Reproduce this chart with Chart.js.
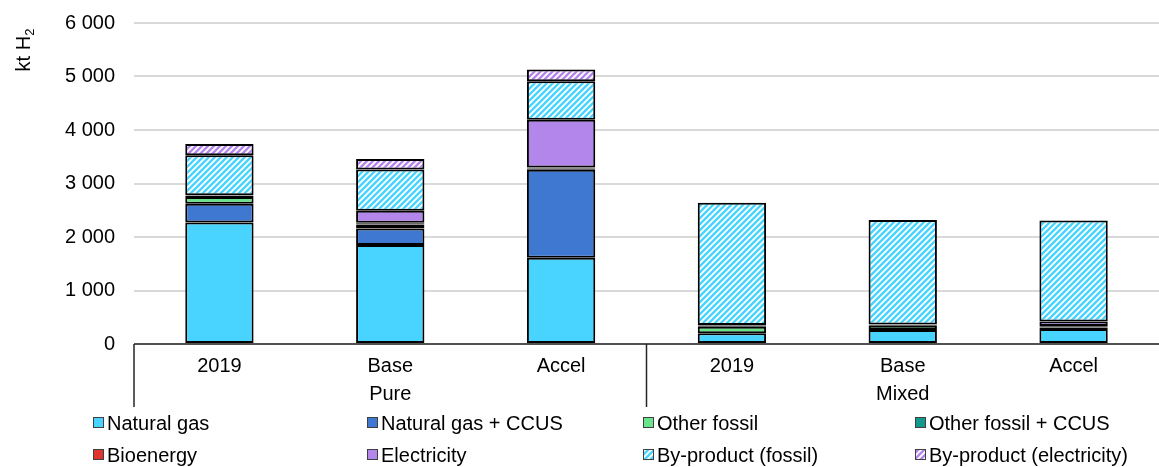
<!DOCTYPE html>
<html>
<head>
<meta charset="utf-8">
<script src="https://cdn.jsdelivr.net/npm/chart.js@4.4.0/dist/chart.umd.min.js"></script>
<style>
  body { margin: 0; background: #fff; }
  #wrap { width: 1159px; height: 467px; }
</style>
</head>
<body>
<div id="wrap"><canvas id="h2Chart" width="1159" height="467"></canvas></div>
<script>
// categories: scenario within each hydrogen type
const categories = ['2019', 'Base', 'Accel', '2019', 'Base', 'Accel'];
const groups = ['Pure', 'Mixed'];
const yTicks = [0, 1000, 2000, 3000, 4000, 5000, 6000];

// kt H2, bottom to top of each stack
const naturalGas      = [2270, 1850, 1610, 200, 260, 280];
const naturalGasCcus  = [350, 310, 1645, 0, 0, 0];
const otherFossil     = [130, 75, 25, 123, 80, 30];
const otherFossilCcus = [20, 20, 10, 25, 20, 20];
const bioenergy       = [10, 10, 10, 5, 5, 5];
const electricity     = [0, 225, 890, 0, 0, 85];
const byFossil        = [750, 770, 720, 2285, 1955, 1890];
const byElectricity   = [210, 200, 220, 0, 0, 0];

const FONT = "'Liberation Sans', Arial, sans-serif";
const SIZE = 20;

function stripes(color) {
    const c = document.createElement('canvas');
    c.width = 6; c.height = 6;
    const g = c.getContext('2d');
    g.fillStyle = '#fff';
    g.fillRect(0, 0, 6, 6);
    g.strokeStyle = color;
    g.lineWidth = 2.4;
    g.beginPath();
    g.moveTo(-3, 3); g.lineTo(3, -3);
    g.moveTo(0, 6); g.lineTo(6, 0);
    g.moveTo(3, 9); g.lineTo(9, 3);
    g.stroke();
    return g.createPattern(c, 'repeat');
}

const series = [
    { label: 'Natural gas', data: naturalGas, color: '#48d4fe' },
    { label: 'Natural gas + CCUS', data: naturalGasCcus, color: '#3e78d0' },
    { label: 'Other fossil', data: otherFossil, color: '#6ae48c' },
    { label: 'Other fossil + CCUS', data: otherFossilCcus, color: '#12998c' },
    { label: 'Bioenergy', data: bioenergy, color: '#e0352e' },
    { label: 'Electricity', data: electricity, color: '#b386eb' },
    { label: 'By-product (fossil)', data: byFossil, color: stripes('#48d4fe') },
    { label: 'By-product (electricity)', data: byElectricity, color: stripes('#b386eb') }
];

function fmt(v) {
    return String(v).replace(/\B(?=(\d{3})+(?!\d))/g, ' ');
}

// axis lines, group labels, y title and legend
const decorations = {
    id: 'decorations',
    afterDraw(chart) {
        const ctx = chart.ctx;
        const area = chart.chartArea;
        const x = chart.scales.x;
        const mid = (x.getPixelForTick(2) + x.getPixelForTick(3)) / 2;
        const lower = area.bottom + 63;

        ctx.save();
        ctx.strokeStyle = '#262626';
        ctx.lineWidth = 1.5;
        ctx.beginPath();
        ctx.moveTo(area.left, area.bottom);
        ctx.lineTo(area.right, area.bottom);
        [area.left, mid].forEach(px => {
            ctx.moveTo(px, area.bottom);
            ctx.lineTo(px, lower);
        });
        ctx.stroke();

        ctx.fillStyle = '#000';
        ctx.font = SIZE + 'px ' + FONT;
        ctx.textAlign = 'center';
        ctx.textBaseline = 'middle';
        ctx.fillText(groups[0], (area.left + mid) / 2, area.bottom + 50);
        ctx.fillText(groups[1], (mid + area.right) / 2, area.bottom + 50);

        // y axis title with subscript
        ctx.translate(30, 50);
        ctx.rotate(-Math.PI / 2);
        ctx.textAlign = 'left';
        ctx.textBaseline = 'alphabetic';
        ctx.font = SIZE + 'px ' + FONT;
        const main = 'kt H';
        const w = ctx.measureText(main).width;
        ctx.font = '13px ' + FONT;
        const w2 = ctx.measureText('2').width;
        const start = -(w + w2) / 2;
        ctx.font = SIZE + 'px ' + FONT;
        ctx.fillText(main, start, 0);
        ctx.font = '13px ' + FONT;
        ctx.fillText('2', start + w, 4);
        ctx.restore();

        // legend, 4 columns x 2 rows
        const cols = [93, 367, 643, 915];
        const rows = [423, 455];
        ctx.save();
        ctx.font = SIZE + 'px ' + FONT;
        ctx.textBaseline = 'middle';
        chart.data.datasets.forEach((ds, i) => {
            const cx = cols[i % 4];
            const cy = rows[Math.floor(i / 4)];
            ctx.fillStyle = ds.backgroundColor;
            ctx.fillRect(cx, cy - 6, 11, 11);
            ctx.strokeStyle = '#404040';
            ctx.lineWidth = 1;
            ctx.strokeRect(cx + 0.5, cy - 5.5, 10, 10);
            ctx.fillStyle = '#000';
            ctx.textAlign = 'left';
            ctx.fillText(ds.label, cx + 14, cy + 1);
        });
        ctx.restore();
    }
};

new Chart(document.getElementById('h2Chart'), {
    type: 'bar',
    data: {
        labels: categories,
        datasets: series.map(s => ({
            label: s.label,
            data: s.data,
            backgroundColor: s.color,
            borderColor: '#000',
            borderWidth: 2,
            borderSkipped: false,
            categoryPercentage: 1,
            barPercentage: 0.4
        }))
    },
    options: {
        responsive: false,
        animation: false,
        layout: { padding: { top: 23, right: 0, left: 0, bottom: 0 } },
        plugins: {
            legend: { display: false },
            tooltip: { enabled: false }
        },
        scales: {
            x: {
                stacked: true,
                grid: { display: false },
                border: { display: false },
                ticks: {
                    color: '#000',
                    padding: 2,
                    maxRotation: 0,
                    font: { family: FONT, size: SIZE }
                },
                afterFit(scale) { scale.height = 123; }
            },
            y: {
                stacked: true,
                min: 0,
                max: 6000,
                afterBuildTicks(scale) {
                    scale.ticks = yTicks.map(v => ({ value: v }));
                },
                grid: { color: '#d9d9d9', lineWidth: 2, drawTicks: false },
                border: { display: false },
                ticks: {
                    color: '#000',
                    padding: 19,
                    font: { family: FONT, size: SIZE },
                    callback: v => fmt(v)
                },
                afterFit(scale) {
                    scale.width = 134;
                    scale.paddingTop = 8;
                    scale.paddingBottom = 0;
                }
            }
        }
    },
    plugins: [decorations]
});
</script>
</body>
</html>
